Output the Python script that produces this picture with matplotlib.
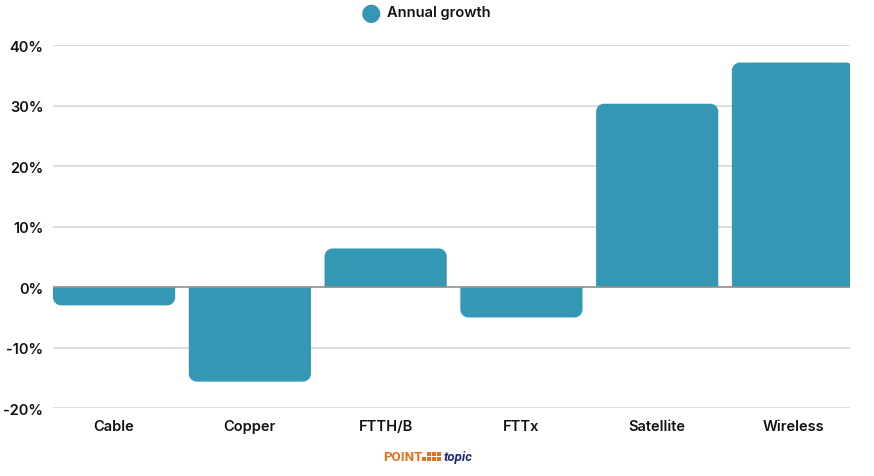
import matplotlib
matplotlib.use("Agg")
import matplotlib.pyplot as plt
from matplotlib.patches import PathPatch, Rectangle
from matplotlib.path import Path
import numpy as np

categories = ["Cable", "Copper", "FTTH/B", "FTTx", "Satellite", "Wireless"]
growth = [-3.0, -15.6, 6.4, -5.0, 30.3, 37.1]
yticks = [-20, -10, 0, 10, 20, 30, 40]
ytick_labels = ["-20%", "-10%", "0%", "10%", "20%", "30%", "40%"]
series_name = "Annual growth"

BAR = "#3497b4"
FONT = ["Inter", "DejaVu Sans"]

fig = plt.figure(figsize=(8.74, 4.77), dpi=100)
ax = fig.add_axes([53/874, 1-409.3/477, (850-53)/874, (409.3-46)/477])
ax.set_xlim(-0.45, 5.42)
ax.set_ylim(-20, 40)

for y in yticks:
    if y != 0:
        ax.axhline(y, color="#dadada", lw=1.3, zorder=0)

x = np.arange(len(categories))
width = 0.9
fig.canvas.draw()
(x0p, y0p) = ax.transData.transform((0, 0))
(x1p, y1p) = ax.transData.transform((1, 1))
pxx = x1p - x0p
pxy = y1p - y0p
r_px = 8
rx = r_px / pxx
ry = r_px / pxy
K = 0.5523


def bar_path(xl, xr, v):
    s = 1 if v > 0 else -1
    ryy = min(ry, abs(v) / 2) * s
    verts = [(xl, 0), (xl, v - ryy),
             (xl, v - ryy + K * ryy), (xl + rx - K * rx, v), (xl + rx, v),
             (xr - rx, v),
             (xr - rx + K * rx, v), (xr, v - ryy + K * ryy), (xr, v - ryy),
             (xr, 0), (xl, 0)]
    codes = [Path.MOVETO, Path.LINETO,
             Path.CURVE4, Path.CURVE4, Path.CURVE4,
             Path.LINETO,
             Path.CURVE4, Path.CURVE4, Path.CURVE4,
             Path.LINETO, Path.CLOSEPOLY]
    return Path(verts, codes)


for xi, v in zip(x, growth):
    ax.add_patch(PathPatch(bar_path(xi - width/2, xi + width/2, v),
                           fc=BAR, ec="none", zorder=2))

ax.axhline(0, color="#8f8f8f", lw=1.2, zorder=3)

for s in ax.spines.values():
    s.set_visible(False)
ax.set_yticks(yticks)
ax.set_yticklabels(ytick_labels)
ax.set_xticks(x)
ax.set_xticklabels(categories)
ax.tick_params(length=0)
ax.tick_params(axis="y", pad=7)
ax.tick_params(axis="x", pad=8)
for lab in ax.get_xticklabels() + ax.get_yticklabels():
    lab.set_fontfamily(FONT)
    lab.set_fontweight("semibold")
    lab.set_fontsize(10.5)
    lab.set_color("#111111")

# legend
fig.text(371/874, 1-13/477, "\u25cf", color=BAR, fontsize=17, ha="center", va="center")
fig.text(387/874, 1-13/477, series_name, fontfamily=FONT, fontweight="semibold",
         fontsize=10.5, color="#111111", ha="left", va="center")

# logo
fig.text(383/874, 1-458/477, "POINT", fontfamily=["Roboto", "DejaVu Sans"], fontweight="bold",
         fontsize=9.5, color="#e8701a", ha="left", va="center")
sq = 4.0
step = 5.0
for i in range(4):
    for j in range(2):
        if j == 1 and i < 1:
            continue
        top = 458 - j * step
        fig.patches.append(Rectangle(((422 + i*step)/874, 1-(top + sq)/477),
                                     sq/874, sq/477,
                                     transform=fig.transFigure, fc="#e8701a", ec="none"))
fig.text(444/874, 1-458/477, "topic", fontfamily=["Roboto", "DejaVu Sans"], fontweight="bold",
         fontstyle="italic", fontsize=9.5, color="#1b2a7a", ha="left", va="center")

fig.savefig("out.png", dpi=100)
